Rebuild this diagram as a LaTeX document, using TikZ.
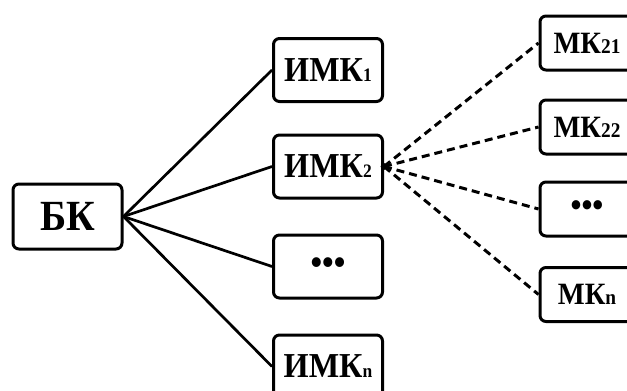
\documentclass[tikz,border=0pt]{standalone}
\usepackage{fontspec}
\setmainfont{Liberation Serif}
\newfontfamily\boxfont[FakeStretch=0.92]{Liberation Serif}
\usetikzlibrary{positioning}

\newcommand{\idx}[2][19]{{\fontsize{#1}{#1}\selectfont #2}}
\newcommand{\dotsrow}[1][36]{{\fontsize{#1}{#1}\selectfont •••}}

\begin{document}
\begin{tikzpicture}[x=1pt, y=-1pt, font=\boxfont\bfseries\fontsize{35}{35}\selectfont,
    box/.style={draw, line width=3pt, rounded corners=6pt, inner sep=0pt, minimum width=109pt, minimum height=63pt},
    mkbox/.style={box, minimum width=94pt, minimum height=54pt, font=\boxfont\bfseries\fontsize{31}{31}\selectfont},
    link/.style={line width=2.7pt},
    sublink/.style={line width=3pt, dash pattern=on 8pt off 5pt}]
    \useasboundingbox (0,0) rectangle (627,391);

    % Base unit
    \node[box, minimum height=65pt, font=\boxfont\bfseries\fontsize{43}{43}\selectfont] (bk) at (67.5,216.5) {БК};

    % Intermediate units
    \node[box] (imk1) at (328,70) {ИМК\idx{1}};
    \node[box] (imk2) at (328,166.5) {ИМК\idx{2}};
    \node[box] (imkd) at (328,266.5) {\dotsrow};
    \node[box] (imkn) at (328,366.5) {ИМК\idx{n}};

    % Lower units
    \node[mkbox] (mk21) at (587,43) {МК\idx[21]{21}};
    \node[mkbox] (mk22) at (587,127) {МК\idx[21]{22}};
    \node[mkbox] (mkd) at (587,209) {\dotsrow[34]};
    \node[mkbox] (mkn) at (587,294.5) {МК\idx[21]{n}};

    % Solid links
    \draw[link] (bk.east) -- (imk1.west);
    \draw[link] (bk.east) -- (imk2.west);
    \draw[link] (bk.east) -- (imkd.west);
    \draw[link] (bk.east) -- (imkn.west);

    % Dashed links
    \fill (imk2.east) circle (3.4pt);
    \draw[sublink] (imk2.east) -- (mk21.west);
    \draw[sublink] (imk2.east) -- (mk22.west);
    \draw[sublink] (imk2.east) -- (mkd.west);
    \draw[sublink] (imk2.east) -- (mkn.west);
\end{tikzpicture}
\end{document}
